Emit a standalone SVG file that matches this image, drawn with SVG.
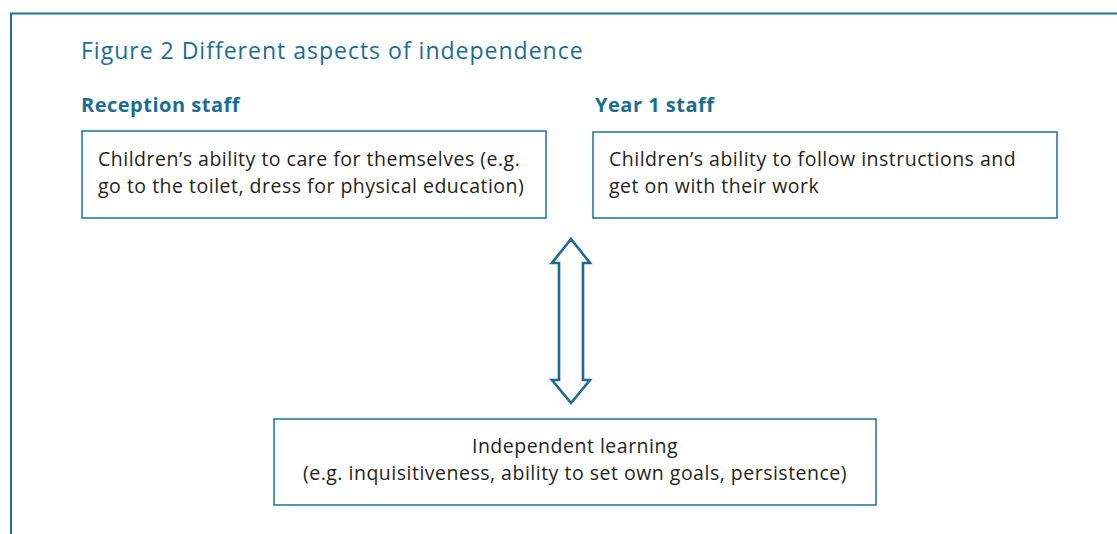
<svg xmlns="http://www.w3.org/2000/svg" width="1117" height="534" viewBox="0 0 1117 534">
<style>
.frame{fill:none;stroke:#1f72a0;stroke-width:2}
.box{fill:#fff;stroke:#2a78a4;stroke-width:1.6}
.title{font-family:"Open Sans","Noto Sans",sans-serif;font-size:23px;letter-spacing:1px;fill:#1b6d96}
.head{font-family:"Open Sans","Noto Sans",sans-serif;font-size:20px;letter-spacing:0.5px;font-weight:bold;fill:#1b6d96}
.body{font-family:"Open Sans","Noto Sans",sans-serif;font-size:19.5px;letter-spacing:0.5px;fill:#231f20}
.arrow{fill:#fff;stroke:#1d6a92;stroke-width:2.6;stroke-linejoin:miter}
</style>
<rect width="1117" height="534" fill="#fff"/>
<path class="frame" d="M11,534 V13.5 H1117"/>
<text class="title" x="81" y="59">Figure 2 Different aspects of independence</text>
<text class="head" x="81" y="112">Reception staff</text>
<text class="head" x="595" y="112">Year 1 staff</text>
<g id="node-reception">
<rect class="box" x="82" y="131" width="464" height="87"/>
<text class="body" x="98" y="166">Children’s ability to care for themselves (e.g.</text>
<text class="body" x="98" y="193">go to the toilet, dress for physical education)</text>
</g>
<g id="node-year1">
<rect class="box" x="593" y="132" width="464" height="86"/>
<text class="body" x="609" y="166">Children’s ability to follow instructions and</text>
<text class="body" x="609" y="193">get on with their work</text>
</g>
<g id="node-independent">
<rect class="box" x="274" y="419" width="602" height="86"/>
<text class="body" x="575" y="453" text-anchor="middle">Independent learning</text>
<text class="body" x="575" y="480" text-anchor="middle">(e.g. inquisitiveness, ability to set own goals, persistence)</text>
</g>
<g id="connectors">
<path class="arrow" d="M571,239 L590,263 L583,263 L583,380 L590,380 L571,403 L552,380 L559,380 L559,263 L552,263 Z"/>
</g>
</svg>
